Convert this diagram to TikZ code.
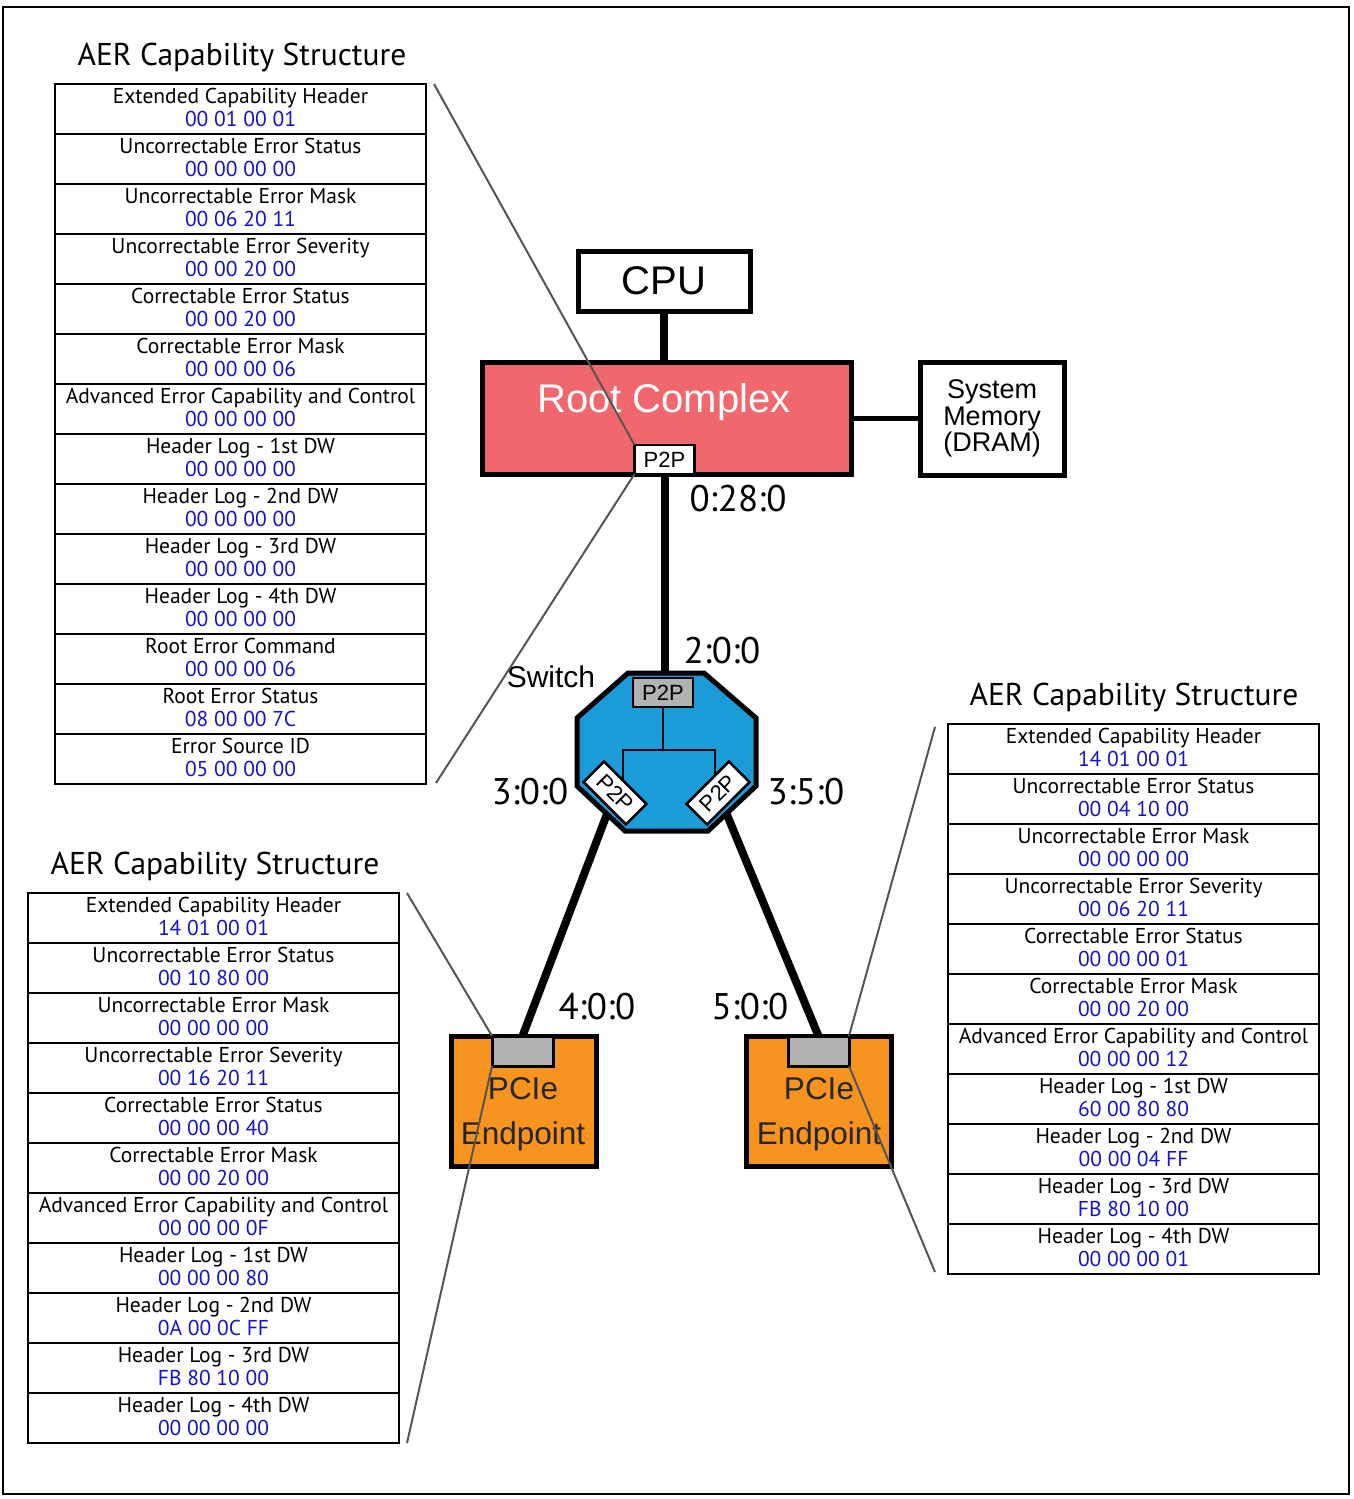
\documentclass[tikz,border=0pt]{standalone}
\usepackage{fontspec}
\setmainfont{Liberation Sans}
\newfontfamily\tabfont{PT Sans}
\definecolor{valblue}{RGB}{20,20,200}
\definecolor{rootred}{RGB}{240,104,110}
\definecolor{swblue}{RGB}{27,155,215}
\definecolor{eporange}{RGB}{247,148,32}
\definecolor{portgray}{RGB}{178,178,178}
\definecolor{callgray}{RGB}{85,85,85}
\newcommand\aertable[4]{%
  \foreach \lab/\val [count=\i] in {#4} {
    \node[tabrow, anchor=north west] (#1\i) at (#2, {#3+50*(\i-1)}) {\lab\\\textcolor{valblue}{\val}};
  }}
\begin{document}
\begin{tikzpicture}[x=1pt,y=-1pt,
  tabrow/.style={draw, line width=2.5pt, minimum width=371pt, minimum height=50pt, inner sep=0pt, outer sep=0pt, align=center, font=\tabfont\fontsize{21.5}{23}\selectfont, text depth=4pt},
  tabtitle/.style={font=\tabfont\fontsize{31.5}{32}\selectfont, inner sep=0pt},
  busnum/.style={font=\tabfont\fontsize{37}{38}\selectfont, inner sep=0pt},
  boxthick/.style={draw, line width=5pt, inner sep=0pt, outer sep=0pt},
  p2pbox/.style={draw, line width=2.5pt, fill=white, minimum width=60pt, minimum height=29pt, inner sep=0pt, outer sep=0pt, font=\fontsize{22}{24}\selectfont},
  portbox/.style={draw, line width=3pt, fill=portgray, minimum width=61pt, minimum height=30pt, inner sep=0pt, outer sep=0pt},
  bus/.style={line width=8pt},
  callout/.style={draw=callgray, line width=2pt},
]
\useasboundingbox (0,0) rectangle (1353,1499);
\draw[line width=2pt] (3,7) rectangle (1349,1494);

% Tables
\node[tabtitle] (tlT) at (242,58) {AER Capability Structure};
\aertable{tl}{55}{84}{Extended Capability Header/00 01 00 01,
Uncorrectable Error Status/00 00 00 00,
Uncorrectable Error Mask/00 06 20 11,
Uncorrectable Error Severity/00 00 20 00,
Correctable Error Status/00 00 20 00,
Correctable Error Mask/00 00 00 06,
Advanced Error Capability and Control/00 00 00 00,
Header Log - 1st DW/00 00 00 00,
Header Log - 2nd DW/00 00 00 00,
Header Log - 3rd DW/00 00 00 00,
Header Log - 4th DW/00 00 00 00,
Root Error Command/00 00 00 06,
Root Error Status/08 00 00 7C,
Error Source ID/05 00 00 00}

\node[tabtitle] (blT) at (215,867) {AER Capability Structure};
\aertable{bl}{28}{893}{Extended Capability Header/14 01 00 01,
Uncorrectable Error Status/00 10 80 00,
Uncorrectable Error Mask/00 00 00 00,
Uncorrectable Error Severity/00 16 20 11,
Correctable Error Status/00 00 00 40,
Correctable Error Mask/00 00 20 00,
Advanced Error Capability and Control/00 00 00 0F,
Header Log - 1st DW/00 00 00 80,
Header Log - 2nd DW/0A 00 0C FF,
Header Log - 3rd DW/FB 80 10 00,
Header Log - 4th DW/00 00 00 00}

\node[tabtitle] (rtT) at (1134,698) {AER Capability Structure};
\aertable{rt}{948}{724}{Extended Capability Header/14 01 00 01,
Uncorrectable Error Status/00 04 10 00,
Uncorrectable Error Mask/00 00 00 00,
Uncorrectable Error Severity/00 06 20 11,
Correctable Error Status/00 00 00 01,
Correctable Error Mask/00 00 20 00,
Advanced Error Capability and Control/00 00 00 12,
Header Log - 1st DW/60 00 80 80,
Header Log - 2nd DW/00 00 04 FF,
Header Log - 3rd DW/FB 80 10 00,
Header Log - 4th DW/00 00 00 01}

% Main boxes
\node[boxthick, fill=white, minimum width=172pt, minimum height=60pt, font=\fontsize{40}{40}\selectfont] (cpu) at (664,281) {CPU};
\node[boxthick, fill=rootred, minimum width=369pt, minimum height=112pt] (root) at (666.5,418) {};
\node[text=white, font=\fontsize{40}{40}\selectfont, inner sep=0pt] (roottxt) at (664,402) {Root Complex};
\node[boxthick, fill=white, minimum width=144pt, minimum height=113pt, align=center, font=\fontsize{27}{26.5}\selectfont] (mem) at (992,418.5) {System\\Memory\\(DRAM)};
\node[p2pbox] (rp2p) at (664.5,459.5) {P2P};

\draw[bus] (cpu.south) -- (cpu.south |- root.north);
\draw[line width=5pt] (root.east |- mem.west) -- (mem.west);

% Endpoints
\node[boxthick, fill=eporange, minimum width=145pt, minimum height=130pt] (lep) at (523.5,1101) {};
\node[boxthick, fill=eporange, minimum width=145pt, minimum height=130pt] (rep) at (818.5,1101) {};
\node[portbox] (lport) at (522.5,1051) {};
\node[portbox] (rport) at (818.5,1051) {};
\node[align=center, text=black!85, font=\fontsize{31.5}{45}\selectfont, inner sep=0pt] (lept) at (523,1114) {PCIe\\Endpoint};
\node[align=center, text=black!85, font=\fontsize{31.5}{45}\selectfont, inner sep=0pt] (rept) at (819,1114) {PCIe\\Endpoint};

% Switch ports (positions)
\coordinate (slc) at (615,793);
\coordinate (src) at (718,793);
\draw[bus] (rp2p.south) -- (664.5,690);
\draw[bus] (slc) -- (lport.north);
\draw[bus] (src) -- (rport.north);

% Switch
\draw[line width=5pt, fill=swblue, line join=miter] (628,673) -- (704,673) -- (756,718) -- (756,786) -- (708,831) -- (625,831) -- (577,786) -- (577,718) -- cycle;
\node[p2pbox, fill=portgray] (sp2p) at (663,692.5) {P2P};
\draw[line width=2.5pt] (sp2p.south) -- (663,750);
\draw[line width=2.5pt] (623,795) -- (623,750) -- (715,750) -- (715,795);
\node[p2pbox, rotate=-45] (sl) at (slc) {P2P};
\node[p2pbox, rotate=45] (sr) at (src) {P2P};
\node[font=\fontsize{30}{30}\selectfont, inner sep=0pt] (swtxt) at (551,677) {Switch};

% Bus numbers
\node[busnum] (b0) at (738,499) {0:28:0};
\node[busnum] (b2) at (722,651) {2:0:0};
\node[busnum] (b3) at (530,792) {3:0:0};
\node[busnum] (b35) at (806,792) {3:5:0};
\node[busnum] (b4) at (597,1007) {4:0:0};
\node[busnum] (b5) at (750,1007) {5:0:0};

% Callouts
\coordinate (ctl1) at (434,84);
\coordinate (ctl2) at (436,783);
\coordinate (cbl1) at (407,893);
\coordinate (cbl2) at (407,1443);
\coordinate (crt1) at (935,727);
\coordinate (crt2) at (935,1272);
\draw[callout] (ctl1) -- (rp2p.north west);
\draw[callout] (ctl2) -- (rp2p.south west);
\draw[callout] (cbl1) -- (lport.north west);
\draw[callout] (cbl2) -- (lport.south west);
\draw[callout] (crt1) -- (rport.north east);
\draw[callout] (crt2) -- (rport.south east);
\end{tikzpicture}
\end{document}
